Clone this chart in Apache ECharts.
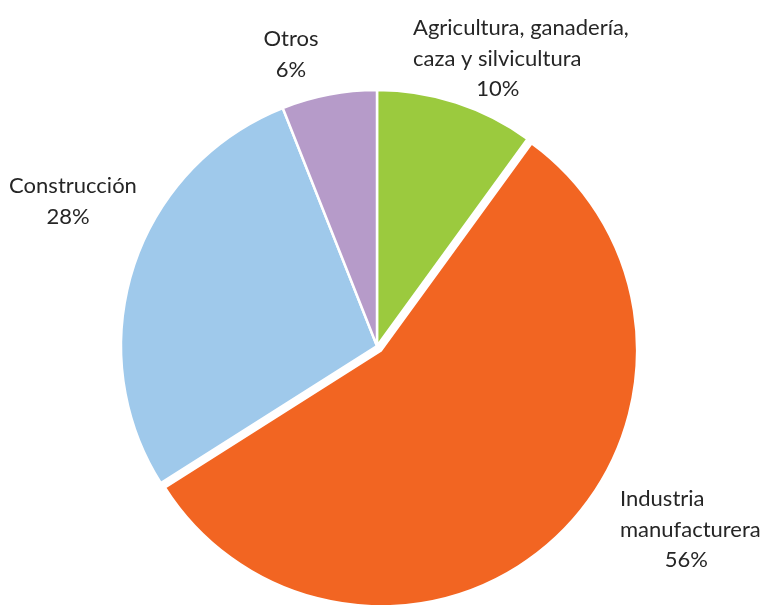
<!DOCTYPE html>
<html><head><meta charset="utf-8">
<script src="https://cdn.jsdelivr.net/npm/echarts@6/dist/echarts.min.js"></script>
<style>html,body{margin:0;padding:0;background:#fff}#c{width:766px;height:605px}</style>
</head><body><div id="c"></div>
<script>
const categories = ['Agricultura, ganadería,\ncaza y silvicultura', 'Industria\nmanufacturera', 'Construcción', 'Otros'];
const values = [10, 56, 28, 6];
const colors = ['#9BCA3E', '#F26522', '#9FC9EB', '#B69BC9'];
const exploded = 1; // index of the pulled-out slice
const labelSpots = [
  {x: 413, y: 13, align: 'left', pPad: [0, 46, 0, 0]},
  {x: 620, y: 484, align: 'left', pPad: [0, 8, 0, 0]},
  {x: 73, y: 171, align: 'center', pPad: [0, 10, 0, 0]},
  {x: 291, y: 24, align: 'center', pPad: [0, 0, 0, 0]}
];
const C = [377, 346], R = 256, OFF = 6;
// offset along the exploded slice's mid-angle (computed from data)
const total = values.reduce((a, b) => a + b, 0);
let before = 0; for (let i = 0; i < exploded; i++) before += values[i];
const midDeg = (before + values[exploded] / 2) / total * 360;
const mid = midDeg * Math.PI / 180;
const C2 = [C[0] + OFF * Math.sin(mid), C[1] - OFF * Math.cos(mid)];

const fontBase = {fontFamily: 'Lato', fontSize: 22, lineHeight: 30.5, color: '#262626'};
function makeSeries(center, showFn) {
  return {
    type: 'pie',
    center: center,
    radius: R,
    startAngle: 90,
    clockwise: true,
    silent: true,
    avoidLabelOverlap: false,
    data: categories.map((n, i) => {
      const vis = showFn(i);
      return {
        name: n, value: values[i],
        itemStyle: vis ? {color: colors[i], borderColor: '#fff', borderWidth: 2.5}
                       : {color: 'rgba(0,0,0,0)', borderWidth: 0},
        label: vis ? {show: true, rich: {p: {padding: labelSpots[i].pPad}}} : {show: false}
      };
    }),
    labelLine: {show: false},
    label: Object.assign({
      position: 'outside',
      formatter: p => '{n|' + p.name + '}\n{p|' + p.value + '%}',
      rich: {
        n: Object.assign({}, fontBase),
        p: Object.assign({align: 'center'}, fontBase)
      }
    }, fontBase),
    labelLayout: function (params) {
      const s = labelSpots[params.dataIndex];
      return {x: s.x, y: s.y, align: s.align, verticalAlign: 'top'};
    },
    emphasis: {disabled: true}
  };
}
const chart = echarts.init(document.getElementById('c'), null, {renderer: 'canvas'});
chart.setOption({
  animation: false,
  series: [
    makeSeries(C, i => i !== exploded),
    makeSeries(C2, i => i === exploded)
  ]
});
</script></body></html>
